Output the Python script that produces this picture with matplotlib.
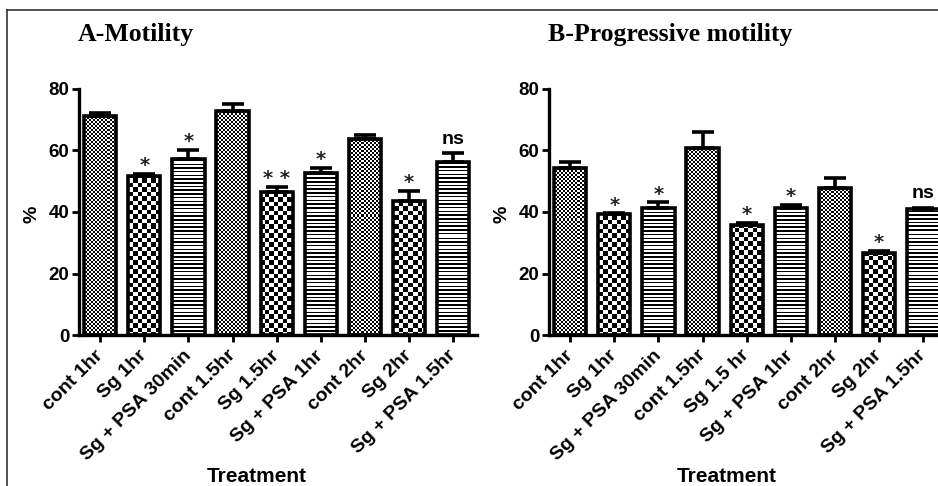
import matplotlib
matplotlib.use('Agg')
import matplotlib.pyplot as plt
from matplotlib.lines import Line2D
import numpy as np

plt.rcParams['font.family'] = ['Liberation Sans', 'DejaVu Sans']

# data
labels_a = ['cont 1hr', 'Sg 1hr', 'Sg + PSA 30min', 'cont 1.5hr', 'Sg 1.5hr',
            'Sg + PSA 1hr', 'cont 2hr', 'Sg 2hr', 'Sg + PSA 1.5hr']
labels_b = ['cont 1hr', 'Sg 1hr', 'Sg + PSA 30min', 'cont 1.5hr', 'Sg 1.5 hr',
            'Sg + PSA 1hr', 'cont 2hr', 'Sg 2hr', 'Sg + PSA 1.5hr']
motility = [71.2, 51.8, 57.2, 72.8, 46.4, 52.8, 63.8, 43.5, 56.3]
motility_err = [0.9, 0.7, 3.1, 2.3, 1.7, 1.5, 1.2, 3.4, 2.8]
progressive = [54.4, 39.2, 41.3, 60.7, 35.8, 41.2, 47.8, 26.6, 41.1]
progressive_err = [1.7, 0.4, 1.8, 5.2, 0.6, 1.1, 3.4, 0.8, 0.3]
sig_a = ['', '*', '*', '', '* *', '*', '', '*', 'ns']
sig_b = ['', '*', '*', '', '*', '*', '', '*', 'ns']
groups = ['cont', 'sg', 'psa'] * 3

W, H = 938, 486
fig = plt.figure(figsize=(W / 100, H / 100), dpi=100)

ax_w = 398 / W
ax_h = 246 / H
ax_b = 151 / H
axA = fig.add_axes([79 / W, ax_b, ax_w, ax_h])
axB = fig.add_axes([549 / W, ax_b, ax_w, ax_h])

# pattern images in axes pixel space
pw, ph = int(round(ax_w * W)), int(round(ax_h * H))
jj, ii = np.meshgrid(np.arange(pw), np.arange(ph))
patterns = {
    'cont': ((ii // 2 + jj // 2) % 2).astype(float),
    'sg': ((np.floor(ii / 4.5) + np.floor(jj / 4.5)) % 2).astype(float),
    'psa': ((ii % 3.7) >= 1.5).astype(float),
}


def panel(ax, labels, vals, errs, sigs, title):
    x = np.arange(len(vals))
    bars = ax.bar(x, vals, width=0.73, facecolor='none', edgecolor='black',
                  linewidth=2.6, zorder=3)
    for b, g in zip(bars, groups):
        im = ax.imshow(patterns[g], cmap='gray', vmin=0, vmax=1,
                       extent=(0, 1, 0, 1), transform=ax.transAxes,
                       aspect='auto', interpolation='nearest', zorder=2)
        im.set_clip_path(b)
    ax.errorbar(x, vals, yerr=[np.zeros(len(vals)), errs], fmt='none',
                ecolor='black', elinewidth=2.6, capsize=8, capthick=2.6, zorder=4)
    for xi, v, e, s in zip(x, vals, errs, sigs):
        if not s:
            continue
        if s == 'ns':
            ax.annotate(s, (xi, v + e), xytext=(0, 4), textcoords='offset points',
                        ha='center', va='bottom', fontsize=14, fontweight='bold')
        else:
            ax.annotate(s, (xi, v + e), xytext=(0, -1), textcoords='offset points',
                        ha='center', va='bottom', fontsize=14, fontweight='bold',
                        family='DejaVu Sans', color='#222222')
    ax.set_xlim(-0.48, 8.54)
    ax.set_ylim(0, 80)
    ax.set_yticks([0, 20, 40, 60, 80])
    ax.set_xticks(x)
    ax.set_xticklabels(labels, rotation=45, ha='right', va='center',
                       rotation_mode='anchor', fontsize=14, fontweight='bold')
    for t in ax.get_yticklabels():
        t.set_fontsize(13.5)
        t.set_fontweight('bold')
    ax.tick_params(axis='both', width=2, length=5, color='black')
    ax.tick_params(axis='x', pad=8)
    ax.tick_params(axis='y', pad=2)
    for sp in ['top', 'right']:
        ax.spines[sp].set_visible(False)
    for sp in ['left', 'bottom']:
        ax.spines[sp].set_linewidth(2.4)
    ax.set_xlabel('Treatment', fontsize=15, fontweight='bold')
    ax.xaxis.set_label_coords(0.447, -0.577)
    ax.xaxis.label.set_va('center')
    ax.set_ylabel('%', fontsize=14, fontweight='bold')
    ax.yaxis.set_label_coords(-0.118, 0.49)
    ax.yaxis.label.set_va('center')
    ax.text(-0.003, 1.22, title, transform=ax.transAxes, ha='left', va='center',
            fontsize=18.5, fontweight='bold', family='Liberation Serif')


panel(axA, labels_a, motility, motility_err, sig_a, 'A-Motility')
panel(axB, labels_b, progressive, progressive_err, sig_b, 'B-Progressive motility')

# frame lines of the original figure (top and left only)
fig.add_artist(Line2D([7 / W, 1], [1 - 10 / H, 1 - 10 / H], color='#333333', lw=1.2))
fig.add_artist(Line2D([7 / W, 7 / W], [0, 1 - 10 / H], color='#333333', lw=1.2))

fig.savefig('out.png', dpi=100)
